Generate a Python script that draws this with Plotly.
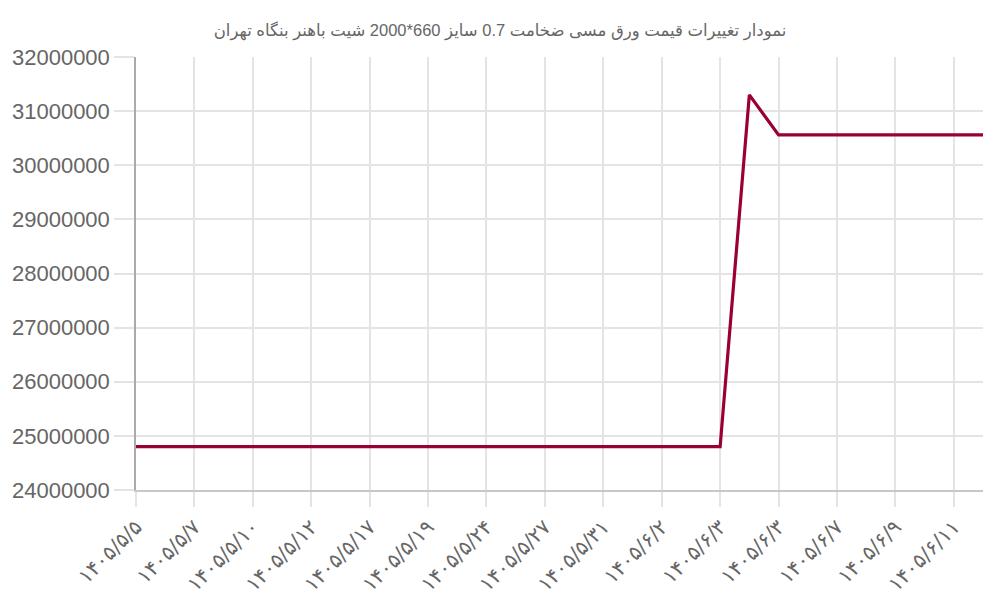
import plotly.graph_objects as go

# تاریخ‌ها (محور افقی) و قیمت‌ها (ریال)
dates = [
    "۱۴۰۵/۵/۵", "۱۴۰۵/۵/۶", "۱۴۰۵/۵/۷", "۱۴۰۵/۵/۹", "۱۴۰۵/۵/۱۰",
    "۱۴۰۵/۵/۱۱", "۱۴۰۵/۵/۱۲", "۱۴۰۵/۵/۱۶", "۱۴۰۵/۵/۱۷", "۱۴۰۵/۵/۱۸",
    "۱۴۰۵/۵/۱۹", "۱۴۰۵/۵/۲۳", "۱۴۰۵/۵/۲۴", "۱۴۰۵/۵/۲۶", "۱۴۰۵/۵/۲۷",
    "۱۴۰۵/۵/۳۰", "۱۴۰۵/۵/۳۱", "۱۴۰۵/۶/۱", "۱۴۰۵/۶/۲", "۱۴۰۵/۶/۲",
    "۱۴۰۵/۶/۳", "۱۴۰۵/۶/۳", "۱۴۰۵/۶/۳", "۱۴۰۵/۶/۴", "۱۴۰۵/۶/۷",
    "۱۴۰۵/۶/۸", "۱۴۰۵/۶/۹", "۱۴۰۵/۶/۱۰", "۱۴۰۵/۶/۱۱", "۱۴۰۵/۶/۱۲",
]
prices = [
    24800000, 24800000, 24800000, 24800000, 24800000,
    24800000, 24800000, 24800000, 24800000, 24800000,
    24800000, 24800000, 24800000, 24800000, 24800000,
    24800000, 24800000, 24800000, 24800000, 24800000,
    24800000, 31300000, 30560000, 30560000, 30560000,
    30560000, 30560000, 30560000, 30560000, 30560000,
]

title_text = "نمودار تغییرات قیمت ورق مسی ضخامت 0.7 سایز 660*2000 شیت باهنر بنگاه تهران"

x_idx = list(range(len(dates)))

fig = go.Figure()
fig.add_trace(
    go.Scatter(
        x=x_idx,
        y=prices,
        mode="lines",
        line=dict(color="#990033", width=3.2),
        hoverinfo="skip",
    )
)

grid = "#e4e4e4"
# صفحه ۸ پیکسل حاشیه دارد، پس شکل ۹۹۲×۵۹۲ است
fig.update_layout(
    width=992,
    height=592,
    paper_bgcolor="white",
    plot_bgcolor="white",
    showlegend=False,
    margin=dict(l=128, r=17, t=49, b=110),
    font=dict(family="Liberation Sans, Arial, DejaVu Sans, sans-serif", color="#666"),
    title=dict(
        text=title_text,
        x=0.496,
        xref="container",
        y=0.963,
        yref="container",
        xanchor="center",
        yanchor="middle",
        font=dict(size=16.5, color="#666"),
    ),
    xaxis=dict(
        range=[0, len(dates) - 1],
        tickvals=x_idx[::2],
        ticktext=dates[::2],
        tickangle=-45,
        tickfont=dict(size=20.5, color="#666", family="DejaVu Sans, sans-serif"),
        showgrid=True,
        gridcolor=grid,
        gridwidth=1.5,
        ticks="outside",
        ticklen=15,
        tickcolor=grid,
        tickwidth=1.5,
        showline=True,
        linecolor="#c8c8c8",
        linewidth=1.5,
        zeroline=False,
        automargin=False,
    ),
    yaxis=dict(
        range=[24000000, 32000000],
        dtick=1000000,
        tickformat="d",
        tickfont=dict(size=22, color="#666"),
        showgrid=True,
        gridcolor=grid,
        gridwidth=1.5,
        ticks="outside",
        ticklen=20,
        tickcolor=grid,
        tickwidth=1.5,
        showline=True,
        linecolor="#aaaaaa",
        linewidth=1.5,
        zeroline=False,
        automargin=False,
    ),
)

fig.write_html("out.html")
